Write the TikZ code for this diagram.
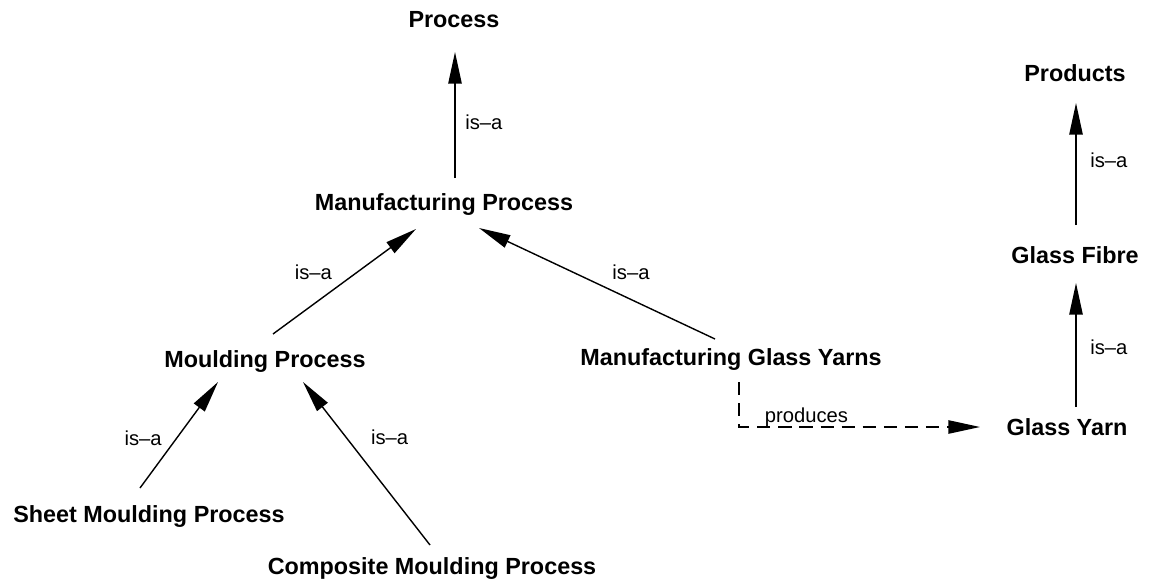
\documentclass[tikz,border=0pt]{standalone}
\usepackage{fontspec}
\setmainfont{Liberation Sans}
\usetikzlibrary{calc,arrows.meta}

\begin{document}
\begin{tikzpicture}[x=0.02cm,y=-0.02cm]
    \tikzset{concept/.style={font=\fontsize{13.3}{16}\selectfont\bfseries, inner sep=0pt, anchor=base},
             isa/.style={-{Triangle[length=18pt,width=7.6pt]}, line width=0.8pt},
             rel/.style={font=\fontsize{11.5}{14}\selectfont, inner sep=0pt}}
    \useasboundingbox (0,0) rectangle (1149,581);
    % process hierarchy
    \node[concept](Proc)    at (454,28)  {Process};
    \node[concept](MfgProc) at (444,210) {Manufacturing Process};
    \node[concept](Mould)   at (265,367) {Moulding Process};
    \node[concept](MfgYarn) at (731,365) {Manufacturing Glass Yarns};
    \node[concept](Sheet)   at (149,522) {Sheet Moulding Process};
    \node[concept](Comp)    at (432,574) {Composite Moulding Process};
    % product hierarchy
    \node[concept](Prod)    at (1075,82)  {Products};
    \node[concept](Fibre)   at (1075,263) {Glass Fibre};
    \node[concept](Yarn)    at (1067,435) {Glass Yarn};

    \draw[isa] ($(MfgProc.base)+(11,-32)$) -- node[rel,pos=0.44,xshift=16.4pt]{is--a} ($(Proc.base)+(1,24)$);
    \draw[isa] ($(Mould.base)+(8,-33)$) -- node[rel,pos=0.39,xshift=-8.8pt,yshift=12pt]{is--a} ($(MfgProc.base)+(-28,19)$);
    \draw[isa] ($(MfgYarn.base)+(-16,-26)$) -- node[rel,pos=0.40,xshift=5.9pt,yshift=12.5pt]{is--a} ($(MfgProc.base)+(35,18)$);
    \draw[isa] ($(Sheet.base)+(-9,-34)$) -- node[rel,pos=0.32,xshift=-12.4pt,yshift=9.1pt]{is--a} ($(Mould.base)+(-47,15)$);
    \draw[isa] ($(Comp.base)+(-2,-29)$) -- node[rel,pos=0.53,xshift=15.3pt,yshift=11.9pt]{is--a} ($(Mould.base)+(38,15)$);
    \draw[isa] ($(Fibre.base)+(1,-38)$) -- node[rel,pos=0.53,xshift=18.7pt]{is--a} ($(Prod.base)+(1,21)$);
    \draw[isa] ($(Yarn.base)+(9,-28)$) -- node[rel,pos=0.48,xshift=18.7pt]{is--a} ($(Fibre.base)+(1,20)$);
    \draw[isa,dash pattern=on 7.5pt off 4.5pt] ($(MfgYarn.base)+(8,17)$) |- node[rel,pos=0.64,yshift=5.7pt]{produces} ($(Yarn.base)+(-87,-8)$);
\end{tikzpicture}
\end{document}
